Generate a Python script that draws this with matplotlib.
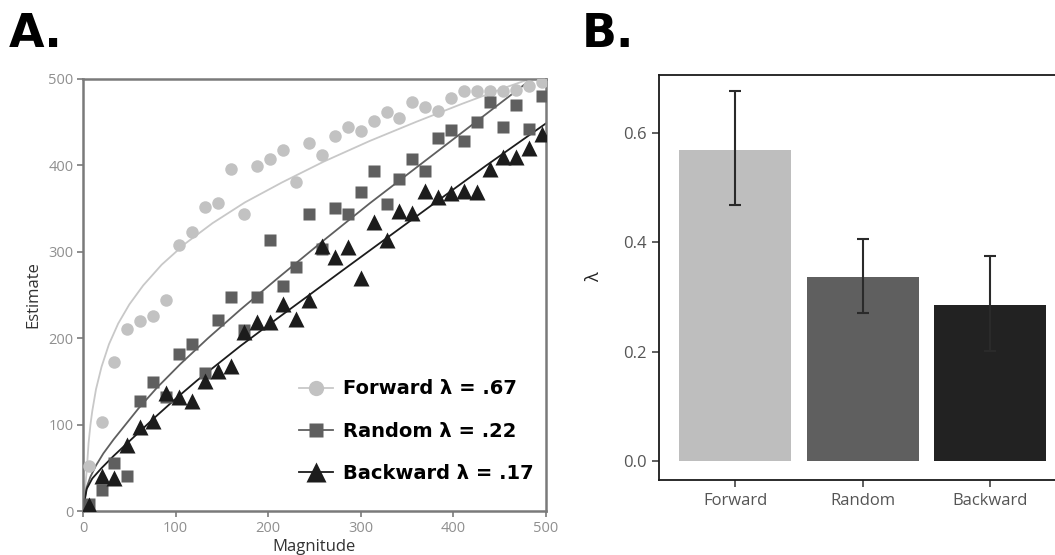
import matplotlib
matplotlib.use("Agg")
import matplotlib.pyplot as plt
from matplotlib.lines import Line2D

# ---------------- Data ----------------
magnitude = [6, 20, 34, 48, 62, 76, 90, 104, 118, 132, 146, 160, 174, 188, 202, 216, 230, 244,
             258, 272, 286, 300, 314, 328, 342, 356, 370, 384, 398, 412, 426, 440, 454, 468, 482, 496]
forward_est = [52, 103, 172, 211, 220, 226, 244, 308, 323, 352, 356, 396, 343, 399, 407, 418, 381, 426,
               412, 434, 444, 440, 451, 461, 454, 473, 467, 462, 477, 486, 486, 486, 486, 487, 491, 496]
random_est = [8, 25, 56, 41, 127, 150, 132, 182, 193, 160, 221, 248, 210, 248, 313, 260, 282, 344,
              303, 351, 343, 369, 393, 355, 384, 407, 393, 431, 441, 428, 450, 473, 444, 469, 442, 480]
backward_est = [7, 41, 38, 77, 97, 104, 137, 132, 127, 151, 162, 168, 207, 219, 219, 240, 222, 244,
                307, 294, 306, 270, 334, 314, 347, 345, 370, 363, 368, 370, 369, 396, 409, 409, 420, 436]

# fitted curves
fwd_fit_x = [1, 2, 4, 6, 8, 10, 14, 20, 28, 38, 50, 65, 85, 110, 140, 175, 215, 260, 310, 360, 410, 460, 500]
fwd_fit_y = [12, 25, 47, 79, 100, 116, 141, 167, 193, 217, 239, 261, 285, 309, 333, 357, 380, 404, 428, 450, 471, 491, 506]
rnd_fit_x = [1, 4, 8, 14, 22, 33, 45, 60, 80, 105, 135, 170, 210, 260, 310, 360, 410, 460, 500]
rnd_fit_y = [10, 28, 40, 53, 67, 83, 99, 119, 143, 170, 200, 233, 269, 313, 356, 397, 438, 479, 512]
bwd_fit_x = [1, 4, 10, 20, 33, 50, 76, 100, 123, 150, 170, 200, 242, 280, 326, 381, 435, 500]
bwd_fit_y = [8, 26, 38, 50, 64, 81, 107, 130, 151, 174, 191, 215, 248, 278, 314, 357, 399, 448]

legend_labels = ["Forward \u03bb = .67", "Random \u03bb = .22", "Backward \u03bb = .17"]

conditions = ["Forward", "Random", "Backward"]
lambda_mean = [0.569, 0.336, 0.286]
lambda_lo = [0.468, 0.271, 0.202]
lambda_hi = [0.676, 0.406, 0.375]

# ---------------- Style ----------------
c_fwd, c_rnd, c_bwd = "#c2c2c2", "#5f5f5f", "#1c1c1c"
bar_colors = ["#bebebe", "#5f5f5f", "#222222"]
plt.rcParams["font.family"] = ["Open Sans", "DejaVu Sans"]

fig = plt.figure(figsize=(10.55, 5.55), dpi=100)

# ---------------- Panel A ----------------
axA = fig.add_axes([0.0787, 0.0786, 0.4385, 0.7798])
axA.plot(fwd_fit_x, fwd_fit_y, color="#c8c8c8", lw=1.3, zorder=2)
axA.plot(rnd_fit_x, rnd_fit_y, color=c_rnd, lw=1.3, zorder=2)
axA.plot(bwd_fit_x, bwd_fit_y, color=c_bwd, lw=1.3, zorder=2)
axA.plot(magnitude, forward_est, "o", color=c_fwd, ms=9, mec="none", zorder=3)
axA.plot(magnitude, random_est, "s", color=c_rnd, ms=8, mec="none", zorder=4)
axA.plot(magnitude, backward_est, "^", color=c_bwd, ms=11, mec="none", zorder=5)
axA.set_xlim(0, 500)
axA.set_ylim(0, 500)
axA.set_xticks([0, 100, 200, 300, 400, 500])
axA.set_yticks([0, 100, 200, 300, 400, 500])
for s in axA.spines.values():
    s.set_color("#7a7a7a")
    s.set_linewidth(1.8)
axA.tick_params(axis="both", colors="#7a7a7a", labelcolor="#8f8f8f", labelsize=10.5,
                length=4, width=1.2, pad=3)
axA.set_xlabel("Magnitude", fontsize=12, color="#333333", labelpad=2)
axA.set_ylabel("Estimate", fontsize=12, color="#333333", labelpad=5)

handles = [
    Line2D([], [], color="#c8c8c8", lw=1.3, marker="o", ms=11, mec="none", mfc=c_fwd),
    Line2D([], [], color=c_rnd, lw=1.3, marker="s", ms=10, mec="none", mfc=c_rnd),
    Line2D([], [], color=c_bwd, lw=1.3, marker="^", ms=14, mec="none", mfc=c_bwd),
]
axA.legend(handles, legend_labels, loc="lower left", bbox_to_anchor=(0.43, 0.025),
           frameon=False, prop={"family": ["DejaVu Sans"], "weight": "bold", "size": 14},
           handlelength=1.7, handletextpad=0.55, labelspacing=1.2)

fig.text(0.008, 0.915, "A.", fontsize=33, fontweight="heavy", family="DejaVu Sans", color="black")

# ---------------- Panel B ----------------
axB = fig.add_axes([0.6246, 0.1351, 0.3863, 0.7297])
pos = [1, 2, 3]
axB.bar(pos, lambda_mean, width=0.88, color=bar_colors, zorder=2)
err_lo = [m - l for m, l in zip(lambda_mean, lambda_lo)]
err_hi = [h - m for m, h in zip(lambda_mean, lambda_hi)]
axB.errorbar(pos, lambda_mean, yerr=[err_lo, err_hi], fmt="none", ecolor="#2a2a2a",
             elinewidth=1.5, capsize=4, capthick=1.5, zorder=3)
axB.set_xlim(0.4, 3.6)
axB.set_ylim(-0.034, 0.705)
axB.set_xticks(pos)
axB.set_xticklabels(conditions)
axB.set_yticks([0.0, 0.2, 0.4, 0.6])
axB.set_yticklabels(["0.0", "0.2", "0.4", "0.6"])
for s in axB.spines.values():
    s.set_color("#1a1a1a")
    s.set_linewidth(1.3)
axB.tick_params(axis="both", colors="#444444", labelcolor="#555555", labelsize=12,
                length=5, width=1.2, pad=4)
axB.set_ylabel("\u03bb", fontsize=13, color="#222222", labelpad=14)

fig.text(0.551, 0.915, "B.", fontsize=33, fontweight="heavy", family="DejaVu Sans", color="black")

fig.savefig("out.png", dpi=100)
